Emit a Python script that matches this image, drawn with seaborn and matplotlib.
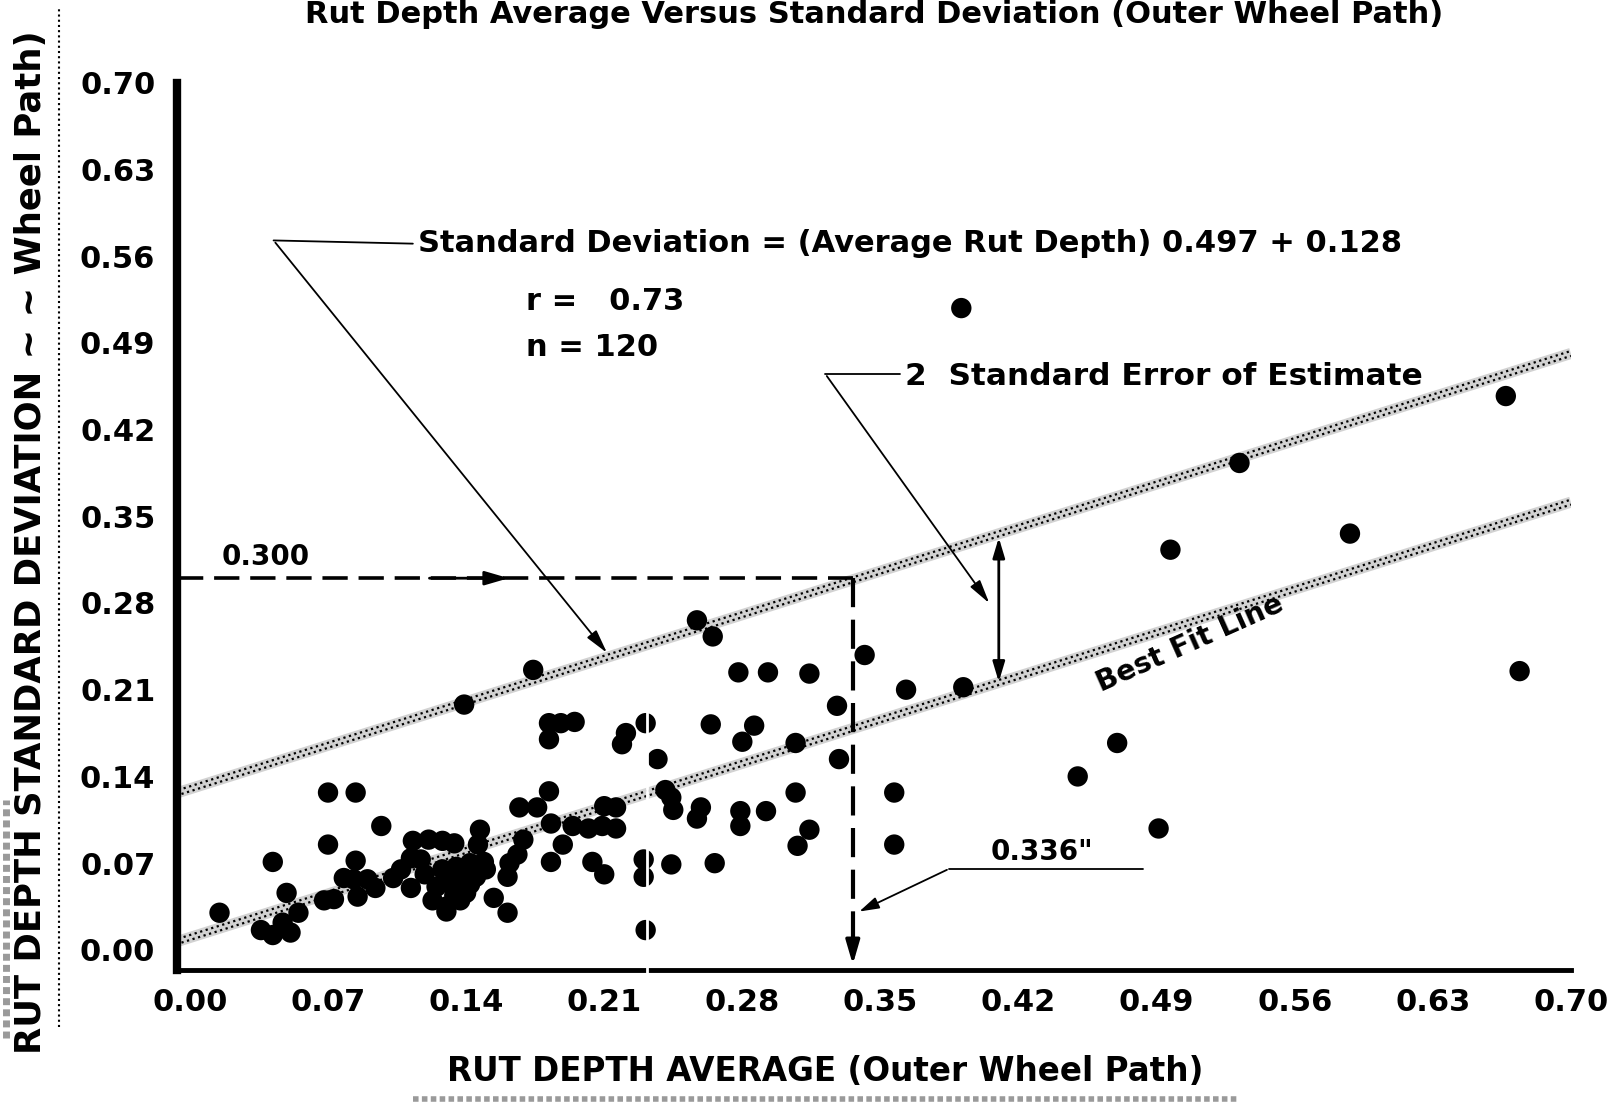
import matplotlib
matplotlib.use("Agg")
import matplotlib.pyplot as plt
import seaborn as sns
import numpy as np
import pandas as pd
from matplotlib.lines import Line2D

# ---------------- data ----------------
rut_avg = [0.015, 0.036, 0.042, 0.051, 0.047, 0.055, 0.049, 0.042, 0.068, 0.073,
           0.070, 0.070, 0.084, 0.097, 0.078, 0.084, 0.083, 0.090, 0.094, 0.085,
           0.103, 0.112, 0.113, 0.121, 0.128, 0.134, 0.112, 0.117, 0.128, 0.135,
           0.142, 0.149, 0.125, 0.132, 0.139, 0.145, 0.150, 0.123, 0.130, 0.137,
           0.140, 0.130, 0.147, 0.146, 0.154, 0.161, 0.161, 0.162, 0.166, 0.169,
           0.167, 0.176, 0.182, 0.183, 0.194, 0.202, 0.209, 0.210, 0.216, 0.216,
           0.189, 0.183, 0.204, 0.210, 0.230, 0.230, 0.231, 0.174, 0.139, 0.182,
           0.188, 0.195, 0.182, 0.221, 0.219, 0.231, 0.237, 0.257, 0.265, 0.278,
           0.293, 0.314, 0.342, 0.328, 0.264, 0.286, 0.280, 0.307, 0.329, 0.307,
           0.244, 0.245, 0.241, 0.259, 0.257, 0.279, 0.279, 0.292, 0.314, 0.308,
           0.244, 0.266, 0.357, 0.357, 0.363, 0.392, 0.391, 0.667, 0.532, 0.497,
           0.588, 0.674, 0.470, 0.450, 0.491, 0.107, 0.119, 0.142, 0.134]
rut_sd = [0.030, 0.016, 0.012, 0.014, 0.022, 0.030, 0.046, 0.071, 0.040, 0.041,
          0.085, 0.127, 0.127, 0.100, 0.058, 0.072, 0.057, 0.057, 0.050, 0.043,
          0.058, 0.050, 0.088, 0.089, 0.088, 0.086, 0.074, 0.073, 0.065, 0.067,
          0.070, 0.071, 0.051, 0.054, 0.057, 0.059, 0.065, 0.040, 0.035, 0.040,
          0.046, 0.031, 0.097, 0.085, 0.042, 0.030, 0.059, 0.070, 0.077, 0.089,
          0.115, 0.115, 0.128, 0.102, 0.100, 0.098, 0.100, 0.116, 0.115, 0.098,
          0.085, 0.071, 0.071, 0.061, 0.073, 0.059, 0.016, 0.226, 0.198, 0.183,
          0.183, 0.184, 0.170, 0.175, 0.166, 0.183, 0.154, 0.266, 0.253, 0.224,
          0.224, 0.223, 0.238, 0.197, 0.182, 0.181, 0.168, 0.167, 0.154, 0.127,
          0.123, 0.113, 0.129, 0.115, 0.106, 0.112, 0.100, 0.112, 0.097, 0.084,
          0.069, 0.070, 0.127, 0.085, 0.210, 0.212, 0.518, 0.447, 0.393, 0.323,
          0.336, 0.225, 0.167, 0.140, 0.098, 0.065, 0.061, 0.053, 0.044]

tick_values = [0.00, 0.07, 0.14, 0.21, 0.28, 0.35, 0.42, 0.49, 0.56, 0.63, 0.70]
x_tick_labels = ["0.00", "0.07", "0.14", "0.21", "0.28", "0.35", "0.42", "0.49", "0.56", "0.63", "0.70"]
y_tick_labels = ["0.00", "0.07", "0.14", "0.21", "0.28", "0.35", "0.42", "0.49", "0.56", "0.63", "0.70"]

fit_slope = 0.502
fit_intercept = 0.010
upper_intercept = 0.130
example_x = 0.336
example_y = 0.300

df = pd.DataFrame({"avg": rut_avg, "sd": rut_sd})

# ---------------- figure ----------------
sns.set_theme(style="white")
plt.rcParams["font.family"] = ["DejaVu Sans"]
plt.rcParams["font.weight"] = "bold"
plt.rcParams["text.color"] = "black"
plt.rcParams["axes.labelcolor"] = "black"

fig = plt.figure(figsize=(16.18, 11.04), dpi=100)
ax = fig.add_axes([0.1097, 0.1214, 0.9709 - 0.1097, 0.9252 - 0.1214])

sns.scatterplot(data=df, x="avg", y="sd", ax=ax, color="black", s=215,
                edgecolor="none", linewidth=0, zorder=5, legend=False)

# fit band lines (stippled look)
xs = np.array([-0.006, 0.70])
for icpt in (fit_intercept, upper_intercept):
    ys = fit_slope * xs + icpt
    ax.plot(xs, ys, color="#d2d2d2", lw=8, solid_capstyle="butt", zorder=2)
    ax.plot(xs, ys + 0.002, color="black", lw=1.6, ls=(0, (1, 1.6)), zorder=3)
    ax.plot(xs, ys - 0.002, color="black", lw=1.6, ls=(1, (1, 1.6)), zorder=3)

# dashed construction lines
ax.plot([-0.006, example_x], [example_y, example_y], color="black", lw=2.6,
        ls=(0, (7, 3)), zorder=4, clip_on=False)
ax.plot([example_x, example_x], [example_y, -0.005], color="black", lw=3,
        ls=(0, (7, 3)), zorder=4, clip_on=False)
ax.annotate("", xy=(0.163, example_y), xytext=(0.12, example_y),
            arrowprops=dict(arrowstyle="-|>,head_length=1.2,head_width=0.35",
                            color="black", lw=2))
ax.annotate("", xy=(example_x, -0.014), xytext=(example_x, 0.02),
            arrowprops=dict(arrowstyle="-|>,head_length=1.2,head_width=0.35",
                            color="black", lw=2.5), annotation_clip=False)
ax.text(0.016, 0.306, "0.300", fontsize=20, fontweight="bold", ha="left", va="bottom")

# 0.336" label with leader
ax.text(0.406, 0.079, '0.336"', fontsize=20, fontweight="bold", ha="left", va="center")
ax.plot([0.385, 0.483], [0.0656, 0.0656], color="black", lw=1.3)
ax.annotate("", xy=(0.338, 0.030), xytext=(0.385, 0.0656),
            arrowprops=dict(arrowstyle="-|>,head_length=1.0,head_width=0.3",
                            color="black", lw=1.3))

# equation text and leader
ax.text(0.1156, 0.570, "Standard Deviation = (Average Rut Depth) 0.497 + 0.128",
        fontsize=22, fontweight="bold", ha="left", va="center")
ax.plot([0.0424, 0.113], [0.5726, 0.570], color="black", lw=1.3)
ax.annotate("", xy=(0.2123, 0.238), xytext=(0.0424, 0.5726),
            arrowprops=dict(arrowstyle="-|>,head_length=1.2,head_width=0.3",
                            color="black", lw=1.3))
ax.text(0.1705, 0.523, "r =   0.73", fontsize=22, fontweight="bold", ha="left", va="center")
ax.text(0.1705, 0.486, "n = 120", fontsize=22, fontweight="bold", ha="left", va="center")

# 2 standard error label and leader
ax.text(0.3625, 0.463, "2  Standard Error of Estimate", fontsize=22.5,
        fontweight="bold", ha="left", va="center")
ax.plot([0.322, 0.360], [0.465, 0.465], color="black", lw=1.3)
ax.annotate("", xy=(0.406, 0.278), xytext=(0.322, 0.465),
            arrowprops=dict(arrowstyle="-|>,head_length=1.2,head_width=0.3",
                            color="black", lw=1.3))
ax.annotate("", xy=(0.410, 0.335), xytext=(0.410, 0.214),
            arrowprops=dict(arrowstyle="<|-|>,head_length=1.0,head_width=0.3",
                            color="black", lw=2))

ax.text(0.507, 0.247, "Best Fit Line", fontsize=20.5, fontweight="bold",
        rotation=24, ha="center", va="center", rotation_mode="anchor")

# scan artefact: white vertical gap
ax.plot([0.2315, 0.2315], [-0.03, 0.195], color="white", lw=2, zorder=10, clip_on=False)

# axes styling
ax.set_xlim(-0.0063, 0.70)
ax.set_ylim(-0.0162, 0.70)
ax.set_xticks(tick_values)
ax.set_xticklabels(x_tick_labels)
ax.set_yticks(tick_values)
ax.set_yticklabels(y_tick_labels)
ax.set_xlabel("")
ax.set_ylabel("")
for s in ("top", "right"):
    ax.spines[s].set_visible(False)
ax.spines["left"].set_linewidth(6)
ax.spines["bottom"].set_linewidth(3.5)
ax.spines["left"].set_color("black")
ax.spines["bottom"].set_color("black")
ax.tick_params(axis="both", direction="in", length=16, width=2.5, color="black",
               labelsize=22, labelcolor="black")
ax.tick_params(axis="y", pad=16)
ax.tick_params(axis="x", pad=13)
for lab in ax.get_xticklabels() + ax.get_yticklabels():
    lab.set_fontweight("bold")

# axis titles
fig.text(0.510, 0.029, "RUT DEPTH AVERAGE (Outer Wheel Path)", color="black",
         fontsize=23.5, fontweight="bold", ha="center", va="center")
fig.text(0.019, 0.509, "RUT DEPTH STANDARD DEVIATION ~ ~ Wheel Path)", color="black",
         fontsize=25.5, fontweight="bold", ha="center", va="center", rotation=90)
fig.text(0.540, 0.979, "Rut Depth Average Versus Standard Deviation (Outer Wheel Path)",
         color="black", fontsize=22, fontweight="bold", ha="center", va="baseline")

# decorative dotted rules from the scan
fig.add_artist(Line2D([0.0364, 0.0364], [0.07, 0.992], transform=fig.transFigure,
                      color="black", lw=1.5, ls=(0, (1, 1.5))))
fig.add_artist(Line2D([0.004, 0.004], [0.06, 0.275], transform=fig.transFigure,
                      color="#9a9a9a", lw=5, ls=(0, (1, 0.6))))
fig.add_artist(Line2D([0.255, 0.765], [0.0045, 0.0045], transform=fig.transFigure,
                      color="#9a9a9a", lw=4, ls=(0, (1, 0.6))))

fig.savefig("out.png", dpi=100)
